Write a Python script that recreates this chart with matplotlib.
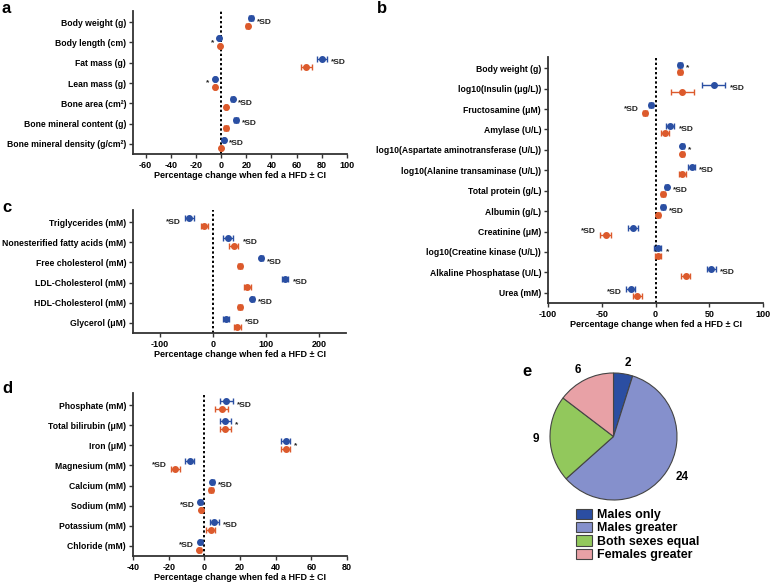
import matplotlib
matplotlib.use("Agg")
import matplotlib.pyplot as plt
import numpy as np
from matplotlib.patches import Patch

plt.rcParams['font.family'] = ['Liberation Sans', 'DejaVu Sans']
plt.rcParams['font.weight'] = 'bold'

BLUE = '#2a4fa3'
RED = '#dc5a2c'

# ---------------- Panel a ----------------
a_labels = ["Body weight (g)", "Body length (cm)", "Fat mass (g)", "Lean mass (g)",
            "Bone area (cm²)", "Bone mineral content (g)", "Bone mineral density (g/cm²)"]
a_male = [24, -1.5, 80, -5, 9.2, 11.6, 2.4]
a_male_ci = [1.5, 0.8, 4.0, 1.0, 1.0, 1.5, 0.8]
a_female = [21, -1, 67.6, -5, 4, 4, 0]
a_female_ci = [1.5, 0.8, 4.5, 1.0, 1.0, 1.5, 0.8]
a_note = ["*SD", "*", "*SD", "*", "*SD", "*SD", "*SD"]
a_side = ["r", "l", "r", "l", "r", "r", "r"]
a_ticks = [-60, -40, -20, 0, 20, 40, 60, 80, 100]

# ---------------- Panel b ----------------
b_labels = ["Body weight (g)", "log10(Insulin (μg/L))", "Fructosamine (μM)", "Amylase (U/L)",
            "log10(Aspartate aminotransferase (U/L))", "log10(Alanine transaminase (U/L))",
            "Total protein (g/L)", "Albumin (g/L)", "Creatinine (μM)",
            "log10(Creatine kinase (U/L))", "Alkaline Phosphatase (U/L)", "Urea (mM)"]
b_male = [22.6, 54, -4.3, 13.6, 25, 33.5, 10.5, 7, -21, 2, 52, -23]
b_male_ci = [2, 11, 2, 4, 1.5, 3, 1.5, 1.5, 5, 3, 4, 4]
b_female = [22.6, 25, -10, 9, 25, 25, 7, 2.5, -46.5, 2.5, 28, -17]
b_female_ci = [2, 11, 2, 4, 1.5, 3, 1.5, 1.5, 5, 3, 4, 4]
b_note = ["*", "*SD", "*SD", "*SD", "*", "*SD", "*SD", "*SD", "*SD", "*", "*SD", "*SD"]
b_side = ["r", "r", "l", "r", "r", "r", "r", "r", "l", "r", "r", "l"]
b_ticks = [-100, -50, 0, 50, 100]

# ---------------- Panel c ----------------
c_labels = ["Triglycerides (mM)", "Nonesterified fatty acids (mM)", "Free cholesterol (mM)",
            "LDL-Cholesterol (mM)", "HDL-Cholesterol (mM)", "Glycerol (μM)"]
c_male = [-44, 28, 91, 136, 74, 25]
c_male_ci = [8, 9, 3, 6, 3, 6]
c_female = [-16, 39, 51, 65, 51, 46]
c_female_ci = [7, 9, 3, 6, 3, 6]
c_note = ["*SD", "*SD", "*SD", "*SD", "*SD", "*SD"]
c_side = ["l", "r", "r", "r", "r", "r"]
c_ticks = [-100, 0, 100, 200]

# ---------------- Panel d ----------------
d_labels = ["Phosphate (mM)", "Total bilirubin (μM)", "Iron (μM)", "Magnesium (mM)",
            "Calcium (mM)", "Sodium (mM)", "Potassium (mM)", "Chloride (mM)"]
d_male = [12.3, 11.8, 45.6, -8.2, 4.5, -2.2, 5.6, -2.2]
d_male_ci = [3.5, 3, 2.5, 2.5, 1, 0.8, 2.5, 0.8]
d_female = [9.7, 11.8, 45.6, -16.4, 3.7, -1.9, 3.7, -2.8]
d_female_ci = [3.5, 3, 2.5, 2.5, 1, 0.8, 2.5, 0.8]
d_note = ["*SD", "*", "*", "*SD", "*SD", "*SD", "*SD", "*SD"]
d_side = ["r", "r", "r", "l", "r", "l", "r", "l"]
d_ticks = [-40, -20, 0, 20, 40, 60, 80]

# ---------------- Panel e ----------------
e_labels = ["Males only", "Males greater", "Both sexes equal", "Females greater"]
e_values = [2, 24, 9, 6]
e_colors = ['#2b4ea2', '#8590cc', '#92c85c', '#e8a1a6']

W, H = 770, 584
fig = plt.figure(figsize=(W / 100, H / 100), dpi=100)

FS = 6.2


def px_axes(left, top, right, bottom):
    return fig.add_axes([left / W, 1 - bottom / H, (right - left) / W, (bottom - top) / H])


def forest(ax, labels, male, mci, female, fci, notes, sides, xlim, ticks, ylim, off):
    n = len(labels)
    y = np.arange(n)
    ax.axvline(0, color='black', lw=1.4, ls=(0, (1.2, 1.2)), zorder=1)
    ax.errorbar(male, y - off, xerr=mci, fmt='o', color=BLUE, ms=4.0, elinewidth=1.0,
                capsize=2, capthick=1.0, zorder=3)
    ax.errorbar(female, y + off, xerr=fci, fmt='o', color=RED, ms=4.0, elinewidth=1.0,
                capsize=2, capthick=1.0, zorder=3)
    for i in range(n):
        hi = max(male[i] + mci[i], female[i] + fci[i])
        lo = min(male[i] - mci[i], female[i] - fci[i])
        if sides[i] == 'r':
            ax.annotate(notes[i], (hi, y[i]), xytext=(3, 0), textcoords='offset points',
                        ha='left', va='center', fontsize=6, fontweight='bold', color='#222')
        else:
            ax.annotate(notes[i], (lo, y[i]), xytext=(-3, 0), textcoords='offset points',
                        ha='right', va='center', fontsize=6, fontweight='bold', color='#222')
    ax.set_xlim(*xlim)
    ax.set_ylim(*ylim)
    ax.set_xticks(ticks)
    ax.set_xticklabels([str(t) for t in ticks], fontsize=FS + 0.3, fontweight='bold')
    ax.set_yticks(y)
    ax.set_yticklabels(labels, fontsize=FS, fontweight='bold')
    for s in ['top', 'right']:
        ax.spines[s].set_visible(False)
    for s in ['left', 'bottom']:
        ax.spines[s].set_color('#333333')
        ax.spines[s].set_linewidth(1.3)
    ax.tick_params(axis='both', direction='out', length=3, width=1, color='#333333', pad=2)
    ax.set_xlabel("Percentage change when fed a HFD ± CI", fontsize=FS + 0.3,
                  fontweight='bold', labelpad=1)


ax_a = px_axes(133, 11, 347, 154)
forest(ax_a, a_labels, a_male, a_male_ci, a_female, a_female_ci, a_note, a_side,
       (-70, 100), a_ticks, (6.5, -0.55), 0.2)

ax_b = px_axes(548, 57, 763, 303)
forest(ax_b, b_labels, b_male, b_male_ci, b_female, b_female_ci, b_note, b_side,
       (-100, 100), b_ticks, (11.5, -0.55), 0.18)

ax_c = px_axes(133, 210, 346, 333)
forest(ax_c, c_labels, c_male, c_male_ci, c_female, c_female_ci, c_note, c_side,
       (-150, 250), c_ticks, (5.5, -0.6), 0.2)

ax_d = px_axes(133, 393, 347, 556)
forest(ax_d, d_labels, d_male, d_male_ci, d_female, d_female_ci, d_note, d_side,
       (-40, 80), d_ticks, (7.5, -0.6), 0.2)

# pie
ax_e = px_axes(550, 373, 677, 500)
wedges, texts = ax_e.pie(e_values, labels=[str(v) for v in e_values], colors=e_colors,
                         startangle=90, counterclock=False, labeldistance=1.17,
                         wedgeprops=dict(edgecolor='#444444', linewidth=0.8),
                         textprops=dict(fontsize=8.5, fontweight='bold'))
ax_e.set_xlim(-1, 1)
ax_e.set_ylim(-1, 1)
ax_e.set_aspect('equal')

handles = [Patch(facecolor=c, edgecolor='#444444', linewidth=0.8) for c in e_colors]
fig.legend(handles, e_labels, loc='upper left', bbox_to_anchor=(567 / W, 1 - 500 / H),
           frameon=False, prop=dict(weight='bold', size=8.9),
           handlelength=1.3, handleheight=0.9, labelspacing=0.08, handletextpad=0.4,
           borderpad=0.2)

# panel letters
for letter, (x, y) in zip("abcde", [(2, 13), (377, 13), (2, 212), (2, 393), (522, 376)]):
    fig.text(x / W, 1 - y / H, letter, fontsize=12, fontweight='bold', ha='left', va='baseline')

fig.savefig("out.png", dpi=100)
